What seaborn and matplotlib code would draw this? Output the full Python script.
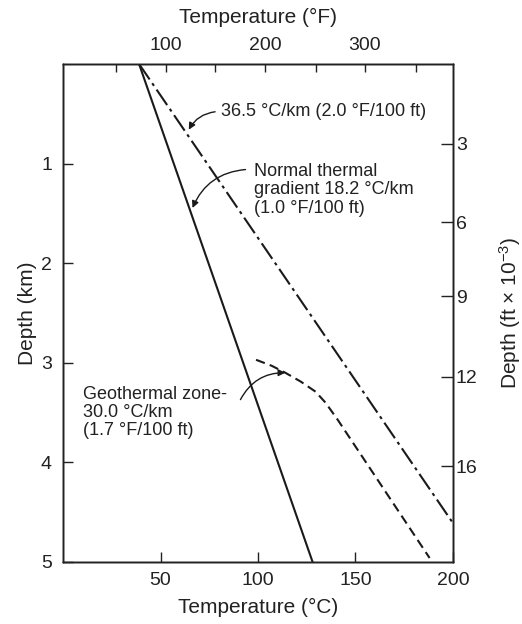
import numpy as np
import pandas as pd
import seaborn as sns
import matplotlib.pyplot as plt

# temperature (deg C) vs depth (km)
normal_temp = [39, 128]
normal_depth = [0.0, 5.0]
steep_temp = [39, 200]
steep_depth = [0.0, 4.61]
geo_temp = [99, 107, 114, 122, 129.5, 134.6, 140.8, 188]
geo_depth = [2.97, 3.03, 3.10, 3.19, 3.29, 3.40, 3.57, 4.96]

x_ticks = [50, 100, 150, 200]
y_ticks = [1, 2, 3, 4, 5]
# top axis (deg F) ticks, placed on the deg C scale
top_tick_pos = [27.3, 52.6, 78.2, 103.8, 130.0, 154.8, 180.8]
top_tick_lab = ['', '100', '', '200', '', '300', '']
# right axis (ft x 10^-3) ticks, placed on the km scale
right_tick_pos = [0.80, 1.59, 2.33, 3.14, 4.04]
right_tick_lab = ['3', '6', '9', '12', '16']

sns.set_style("ticks")
plt.rcParams['font.family'] = ['Liberation Sans', 'DejaVu Sans']
plt.rcParams['mathtext.fontset'] = 'custom'
plt.rcParams['mathtext.rm'] = 'Liberation Sans'
plt.rcParams['mathtext.it'] = 'Liberation Sans'
plt.rcParams['axes.linewidth'] = 1.0

df_normal = pd.DataFrame({'temp': normal_temp, 'depth': normal_depth})
df_steep = pd.DataFrame({'temp': steep_temp, 'depth': steep_depth})
df_geo = pd.DataFrame({'temp': geo_temp, 'depth': geo_depth})

fig = plt.figure(figsize=(5.22, 6.24), dpi=100)
ax = fig.add_axes([0.1207, 0.0994, 0.7471, 0.7981])

sns.lineplot(data=df_normal, x='temp', y='depth', ax=ax, color='#1a1a1a', lw=1.5)
sns.lineplot(data=df_steep, x='temp', y='depth', ax=ax, color='#1a1a1a', lw=1.5,
             linestyle=(0, (9, 2.2, 1.5, 2.2)))
sns.lineplot(data=df_geo, x='temp', y='depth', ax=ax, color='#1a1a1a', lw=1.5,
             linestyle=(0, (4.5, 2.5)), sort=False)

ax.set_xlim(0, 200)
ax.set_ylim(5, 0)
ax.set_xticks(x_ticks)
ax.set_yticks(y_ticks)
ax.tick_params(direction='in', length=7, width=1, labelsize=14, colors='#222222')
ax.tick_params(axis='x', pad=7)
ax.tick_params(axis='y', pad=8)
ax.set_xlabel('Temperature (°C)', fontsize=15, labelpad=7, color='#222222')
ax.set_ylabel('Depth (km)', fontsize=15, labelpad=3, color='#222222')

top = ax.twiny()
top.set_xlim(ax.get_xlim())
top.set_xticks(top_tick_pos)
top.set_xticklabels(top_tick_lab)
top.tick_params(direction='in', length=6, width=1, labelsize=14, pad=7, colors='#222222')
top.set_xlabel('Temperature (°F)', fontsize=15, labelpad=10, color='#222222')

right = ax.twinx()
right.set_ylim(ax.get_ylim())
right.set_yticks(right_tick_pos)
right.set_yticklabels(right_tick_lab)
right.tick_params(direction='in', length=9, width=1, labelsize=14, pad=2, colors='#222222')
right.set_ylabel(r'Depth (ft × 10$^{-3}$)', fontsize=15, labelpad=14, color='#222222')

for a in (ax, top, right):
    for s in a.spines.values():
        s.set_visible(True)
        s.set_color('#222222')

arrow = dict(arrowstyle='-|>', color='#1a1a1a', lw=1.0, mutation_scale=10,
             shrinkA=0, shrinkB=0)

ax.text(80.8, 0.48, '36.5 °C/km (2.0 °F/100 ft)', fontsize=13, va='center',
        ha='left', color='#222222')
ax.annotate('', xy=(64.5, 0.66), xytext=(78.0, 0.48),
            arrowprops=dict(connectionstyle='arc3,rad=0.25', **arrow))

ax.text(97.7, 1.265, 'Normal thermal\ngradient 18.2 °C/km\n(1.0 °F/100 ft)',
        fontsize=13, va='center', ha='left', color='#222222', linespacing=1.1)
ax.annotate('', xy=(66.4, 1.446), xytext=(93.6, 1.06),
            arrowprops=dict(connectionstyle='arc3,rad=0.3', **arrow))

ax.text(10.5, 3.50, 'Geothermal zone-\n30.0 °C/km\n(1.7 °F/100 ft)',
        fontsize=13, va='center', ha='left', color='#222222', linespacing=1.1)
ax.annotate('', xy=(114.0, 3.10), xytext=(91.0, 3.37),
            arrowprops=dict(connectionstyle='arc3,rad=-0.3', **arrow))

plt.savefig('out.png', dpi=100)
